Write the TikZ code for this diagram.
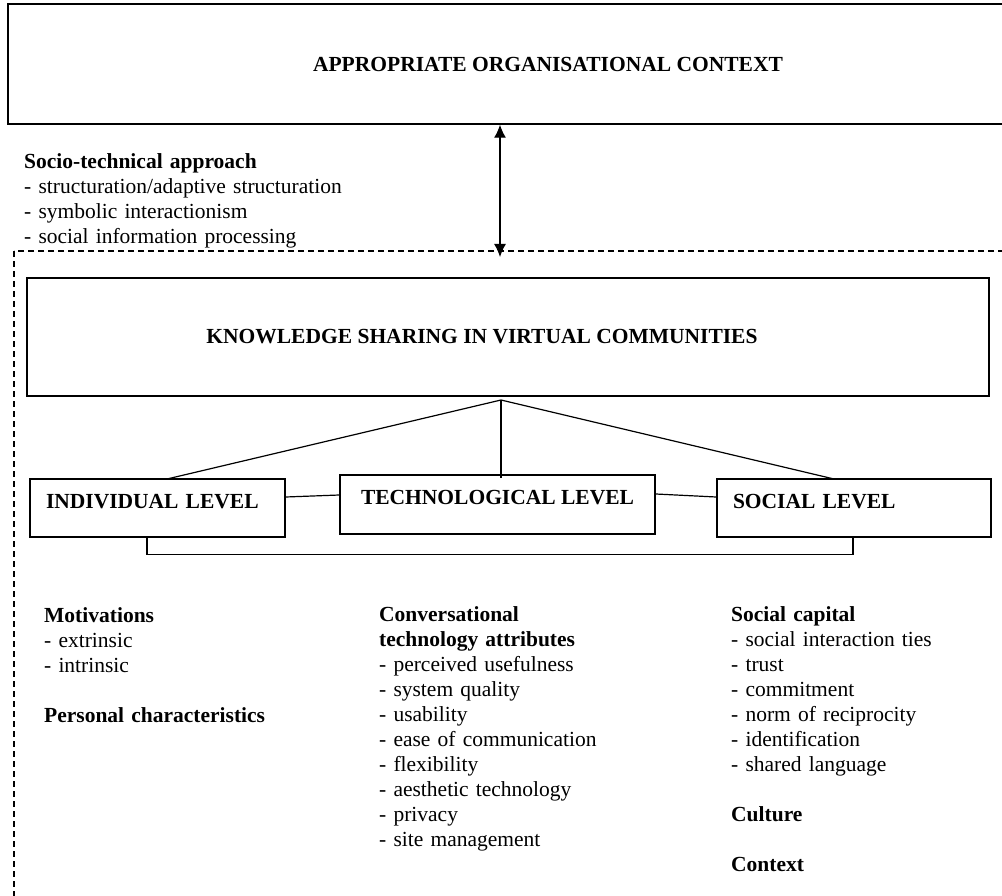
\documentclass[tikz,border=0pt]{standalone}
\usepackage{fontspec}
\setmainfont{Liberation Serif}
\usetikzlibrary{arrows.meta,calc}
\begin{document}
\begin{tikzpicture}[x=1pt,y=-1pt,
  box/.style={draw,line width=1.5pt,inner sep=0pt,font=\fontsize{21.5}{25}\selectfont\bfseries},
  lvl/.style={box,text height=7pt,text depth=7pt},
  lvlleft/.style={lvl,inner xsep=16pt,align=left},
  conn/.style={line width=1.2pt},
  dblarrow/.style={conn,{Latex[length=13pt,width=12pt]}-{Latex[length=13pt,width=12pt]}},
  txt/.style={anchor=base west,inner sep=0pt,text width=420pt,align=left,font=\fontsize{21.5}{25}\selectfont},
  dashbox/.style={line width=1.3pt,dash pattern=on 6pt off 4pt}]
\useasboundingbox (0,0) rectangle (1002,896);
\clip (0,0) rectangle (1002,896);

% dashed region
\draw[dashbox] (14,251) rectangle (1150,1050);

% boxes
\node[box,minimum width=1080pt,minimum height=120pt] (org) at (548,64) {APPROPRIATE ORGANISATIONAL CONTEXT};
\node[box,minimum width=962pt,minimum height=118pt] (know) at (508,337) {\hspace*{-52pt}KNOWLEDGE SHARING IN VIRTUAL COMMUNITIES};
\node[lvlleft,minimum width=255pt,minimum height=58pt,text width=223pt] (ind) at (157.5,508) {INDIVIDUAL LEVEL};
\node[lvl,minimum width=315pt,minimum height=59pt] (tech) at (497.5,504.5) {TECHNOLOGICAL LEVEL};
\node[lvlleft,minimum width=274pt,minimum height=58pt,text width=242pt] (soc) at (854,508) {SOCIAL LEVEL};

% arrow
\coordinate (arrx) at (500,0);
\coordinate (abot) at (500,257);
\draw[dblarrow] (org.south -| arrx) -- (abot);

% tree
\coordinate (apex) at (501,400);
\draw[conn] (apex) -- (167,479);
\draw[conn] (apex) -- (apex |- tech.north) -- ++(0,4);
\draw[conn] (apex) -- (834,479);
\draw[conn] ([yshift=11pt]ind.east) -- ([yshift=9.5pt]tech.west);
\draw[conn] ([yshift=10.5pt]tech.east) -- ([yshift=11pt]soc.west);
\draw[conn] ([xshift=-10.5pt]ind.south) -- ++(0,17) -| ([xshift=-1pt]soc.south);

% texts
\node[txt] (socio) at (24,169) {\textbf{Socio-technical approach}\\- structuration/adaptive structuration\\- symbolic interactionism\\- social information processing};
\node[txt] (indtxt) at (44,622) {\textbf{Motivations}\\- extrinsic\\- intrinsic\\[25pt]\textbf{Personal characteristics}};
\node[txt] (techtxt) at (379,621) {\textbf{Conversational}\\\textbf{technology attributes}\\- perceived usefulness\\- system quality\\- usability\\- ease of communication\\- flexibility\\- aesthetic technology\\- privacy\\- site management};
\node[txt] (soctxt) at (731,621) {\textbf{Social capital}\\- social interaction ties\\- trust\\- commitment\\- norm of reciprocity\\- identification\\- shared language\\[25pt]\textbf{Culture}\\[25pt]\textbf{Context}};
\end{tikzpicture}
\end{document}
